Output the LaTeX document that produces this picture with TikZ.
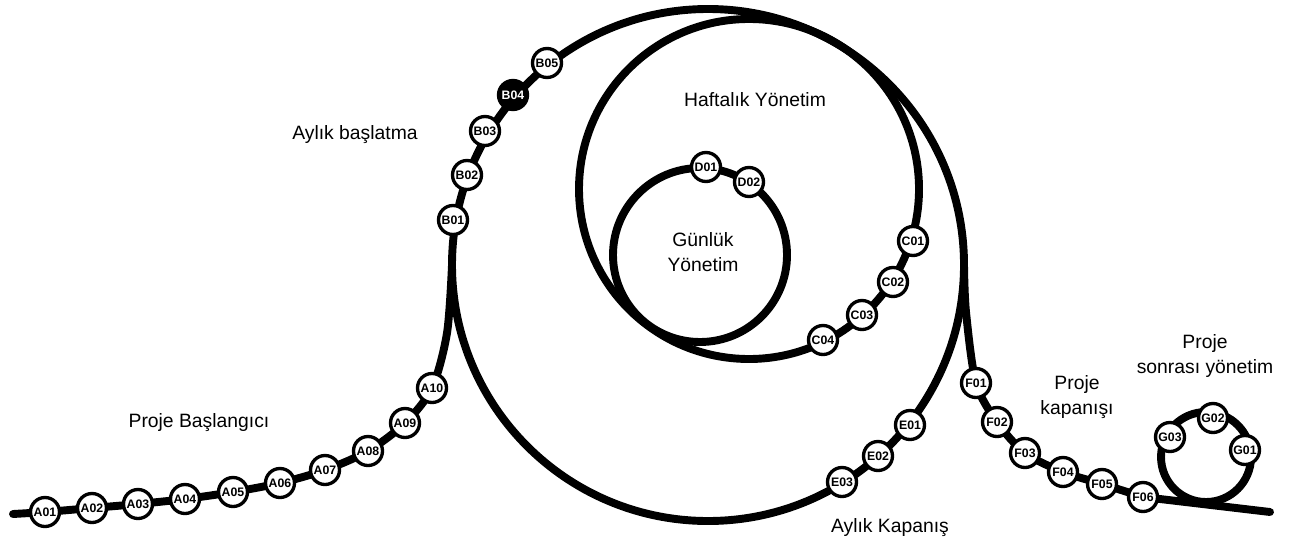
\documentclass[tikz,border=0pt]{standalone}
\usepackage{fontspec}
\setmainfont{Liberation Sans}
\usetikzlibrary{backgrounds}

\begin{document}
\begin{tikzpicture}[x=0.02cm,y=-0.02cm,
  track/.style={line width=4.5pt,line cap=round},
  stop/.style={circle,draw,line width=1.9pt,fill=white,minimum size=0.58cm,inner sep=0pt,
    font=\fontsize{7}{8}\selectfont\bfseries},
  stopdone/.style={stop,fill=black,text=white},
  phase/.style={font=\fontsize{11}{14}\selectfont,align=center}]
\useasboundingbox (0,0) rectangle (1293,544);

\coordinate (month) at (708,265);
\coordinate (week) at (749,189);
\coordinate (day) at (700,255);
\coordinate (after) at (1206,457);

\foreach \n/\x/\y in {A01/45/512,A02/92/508,A03/138/504,A04/185/499,A05/233/492,
  A06/280/483,A07/325/470,A08/368/451,A09/405/423,A10/432/388,
  B01/453/220,B02/467/175,B03/485/131,B05/547/63,
  C01/913/241,C02/893/282,C03/862/315,C04/823/340,
  D01/706/167,D02/749/182,
  E01/910/425,E02/878/456,E03/842/482,
  F01/976/383,F02/997/422,F03/1025/453,F04/1063/472,F05/1102/484,F06/1143/497,
  G01/1245/450,G02/1213/418,G03/1170/437}
  \node[stop] (\n) at (\x,\y) {\n};
\node[stopdone] (B04) at (513,95) {B04};

\coordinate (astart) at (13,514);
\coordinate (acusp) at (447,333);
\coordinate (aleft) at (452,265);
\coordinate (fright) at (964,265);
\coordinate (fcusp) at (966,312);
\coordinate (fend) at (1270,512);

\begin{pgfonlayer}{background}
\draw[track] (month) circle (256);
\draw[track] (week) circle (170);
\draw[track] (day) circle (87);
\draw[track] (after) circle (45);
\draw[track] plot[smooth] coordinates {(astart) (A01.center) (A02.center) (A03.center)
  (A04.center) (A05.center) (A06.center) (A07.center) (A08.center) (A09.center)
  (A10.center) (acusp) (aleft)};
\draw[track] plot[smooth] coordinates {(fright) (fcusp) (F01.center) (F02.center)
  (F03.center) (F04.center) (F05.center) (F06.center)} -- (fend);
\end{pgfonlayer}

\node[phase] (startlbl) at (199,423) {Proje Başlangıcı};
\node[phase] (monthstart) at (355,135) {Aylık başlatma};
\node[phase] (weeklbl) at (755,100) {Haftalık Yönetim};
\node[phase] (daylbl) at (703,252) {Günlük\\Yönetim};
\node[phase] (monthend) at (890,528) {Aylık Kapanış};
\node[phase] (closelbl) at (1077,397) {Proje\\kapanışı};
\node[phase] (afterlbl) at (1205,356) {Proje\\sonrası yönetim};
\end{tikzpicture}
\end{document}
